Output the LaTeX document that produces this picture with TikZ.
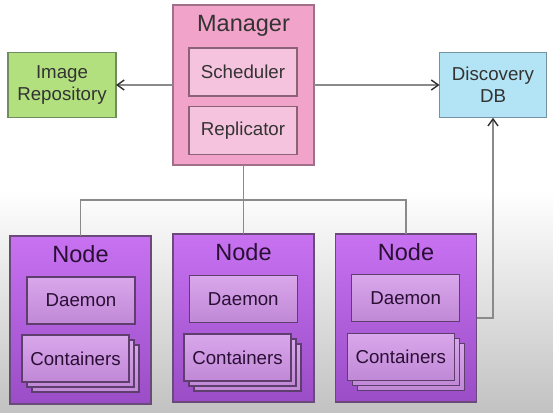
\documentclass[tikz,border=0pt]{standalone}
\usepackage{fontspec}
\setmainfont{Liberation Sans}
\usetikzlibrary{arrows.meta}

\definecolor{mgrfill}{HTML}{F2A3C9}
\definecolor{mgrline}{HTML}{A07088}
\definecolor{partfill}{HTML}{F5C3DD}
\definecolor{partline}{HTML}{8C6276}
\definecolor{repofill}{HTML}{B3E07F}
\definecolor{repoline}{HTML}{6E8E5E}
\definecolor{discfill}{HTML}{B3E4F5}
\definecolor{discline}{HTML}{7393A3}
\definecolor{hosttop}{HTML}{C872F2}
\definecolor{hostbot}{HTML}{9A4DC6}
\definecolor{hostline}{HTML}{6A4A78}
\definecolor{subtop}{HTML}{D9A7EB}
\definecolor{subbot}{HTML}{C088D6}
\definecolor{subline}{HTML}{5E3E6C}
\definecolor{ink}{HTML}{333333}
\definecolor{purpleink}{HTML}{2A0F35}
\definecolor{wire}{HTML}{8A8A8A}
\definecolor{tipink}{HTML}{303030}
\definecolor{floor}{HTML}{C2C2C2}

\tikzset{
  box/.style={line width=1.2pt, inner sep=0pt, outer sep=0pt, align=center,
    font=\fontsize{18.7}{22}\selectfont, text=ink},
  mgrbox/.style={box, draw=mgrline, fill=mgrfill, minimum width=141pt, minimum height=160pt},
  mgrpart/.style={box, draw=partline, fill=partfill, minimum width=108pt, minimum height=48pt},
  repobox/.style={box, draw=repoline, fill=repofill, minimum width=108pt, minimum height=65.5pt},
  discbox/.style={box, draw=discline, fill=discfill, minimum width=107pt, minimum height=65.5pt},
  hostbox/.style={box, draw=hostline, top color=hosttop, bottom color=hostbot,
    minimum width=141pt, minimum height=168pt},
  hostpart/.style={box, draw=subline, top color=subtop, bottom color=subbot,
    text=purpleink, minimum width=108pt, minimum height=47pt},
  stackcard/.style={hostpart, minimum width=107pt},
  heading/.style={inner sep=0pt, anchor=base, font=\fontsize{23.5}{26}\selectfont},
  conn/.style={draw=wire, line width=1.4pt,
    >={Straight Barb[length=7pt, width=10pt, line width=1.4pt, color=tipink]}},
}

\begin{document}
\begin{tikzpicture}[x=1pt, y=-1pt]
  \useasboundingbox (0,0) rectangle (553,412);
  % backdrop: white fading to light grey towards the bottom
  \fill[white] (0,0) rectangle (553,412);
  \shade[top color=white, bottom color=floor] (0,190) rectangle (553,412);

  % manager and its parts
  \node[mgrbox] (mgr) at (243.5,85) {};
  \node[heading, text=ink] (mgrtitle) at (243.5,32) {Manager};
  \node[mgrpart] (sched) at (243,72) {Scheduler};
  \node[mgrpart] (repl) at (243,130.5) {Replicator};

  % side services
  \node[repobox] (repo) at (62,85) {Image\\Repository};
  \node[discbox] (disc) at (493,85) {Discovery\\DB};

  % worker nodes
  \node[hostbox] (host1) at (80.5,320) {};
  \node[heading, text=purpleink] (title1) at (80.5,262) {Node};
  \node[hostpart] (daemon1) at (81,300.5) {Daemon};
  \node[stackcard] (cont1c) at (85.5,368.5) {};
  \node[stackcard] (cont1b) at (80.5,363.5) {};
  \node[stackcard] (cont1) at (75.5,358.5) {Containers};

  \node[hostbox] (host2) at (243.5,318) {};
  \node[heading, text=purpleink] (title2) at (243.5,260) {Node};
  \node[hostpart] (daemon2) at (243.3,299) {Daemon};
  \node[stackcard] (cont2c) at (247.5,367.5) {};
  \node[stackcard] (cont2b) at (242.5,362.5) {};
  \node[stackcard] (cont2) at (237.5,357.5) {Containers};

  \node[hostbox] (host3) at (406,318) {};
  \node[heading, text=purpleink] (title3) at (406,260) {Node};
  \node[hostpart] (daemon3) at (405.7,298.3) {Daemon};
  \node[stackcard] (cont3c) at (410.8,367) {};
  \node[stackcard] (cont3b) at (405.8,362) {};
  \node[stackcard] (cont3) at (400.8,357) {Containers};

  % connectors
  \coordinate (bus) at (243.5,200);
  \draw[conn, ->] (mgr.west) -- (repo.east);
  \draw[conn, ->] (mgr.east) -- (disc.west);
  \draw[conn] (mgr.south) -- (host2.north);
  \draw[conn] (host1.north) |- (bus) -| (host3.north);
  \draw[conn, ->] (host3.east) -| (disc.south);
\end{tikzpicture}
\end{document}
